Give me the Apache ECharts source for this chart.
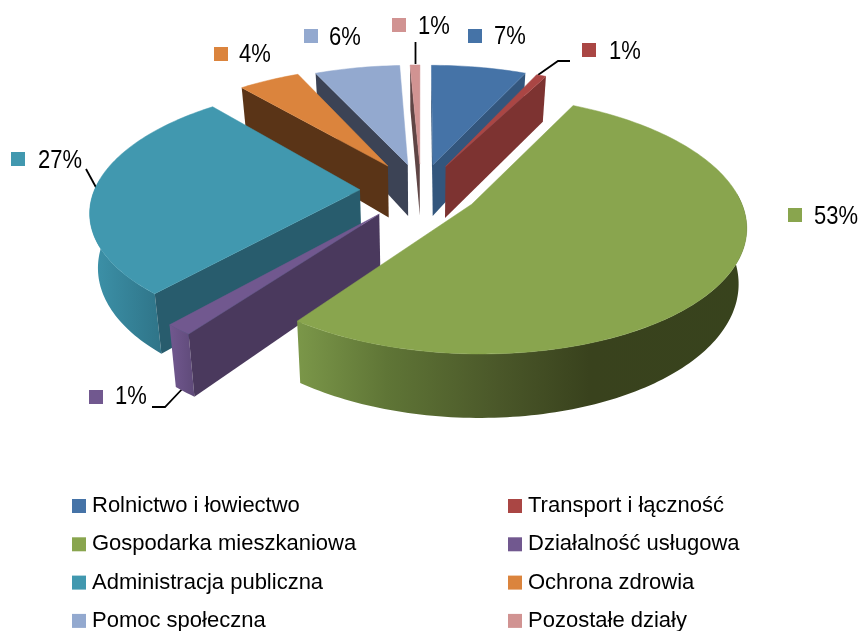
<!DOCTYPE html>
<html>
<head>
<meta charset="utf-8">
<style>html,body{margin:0;padding:0;background:#fff}#main{width:858px;height:631px}</style>
<script src="https://cdn.jsdelivr.net/npm/echarts@6/dist/echarts.min.js"></script>
</head>
<body>
<div id="main"></div>
<script>
// values, in %
const categories = ['Rolnictwo i łowiectwo', 'Transport i łączność', 'Gospodarka mieszkaniowa', 'Działalność usługowa',
  'Administracja publiczna', 'Ochrona zdrowia', 'Pomoc społeczna', 'Pozostałe działy'];
const values = [6.8, 0.7, 52.5, 1.4, 27.4, 4.4, 6.1, 0.7];

const topColors = ['#4573A7', '#AA4644', '#89A54E', '#71588F', '#4198AF', '#DB843D', '#93A9CF', '#D19392'];
const wallColors = ['#33567D', '#7D3331', '#38431D', '#4A395D', '#285C6D', '#5A3417', '#3C4355', '#5F4545'];
const rimStops = [
  ['#4573A7', '#33567D'], ['#AA4644', '#7D3331'],
  ['#7B9749', '#5F7536', '#4A5729', '#39421D', '#38431D'],
  ['#71588F', '#5F4A79'], ['#3D93AA', '#2F7488'], ['#DB843D', '#5A3417'], ['#93A9CF', '#3C4355'], ['#D19392', '#5F4545']
];
// far slices first, so the nearer ones cover them
const drawOrder = [7, 0, 6, 1, 5, 4, 3, 2];
// how far each slice is pulled out of the pie
const explodeBy = [0.22, 0.22, 0.22, 0.245, 0.23, 0.24, 0.22, 0.22];

// perspective of the pie plane
const cx = 421, cy = 190, radiusX = 265.5, radiusY = 121.8, persp = 0.154;
const depth = 53, shrink = 0.025;
const textFont = '22px "Liberation Sans"';

// [marker x, marker y, text x, text y]
const labelPos = [[468, 29, 494, 37], [582, 43, 609, 52], [788, 208, 814, 217], [89, 390, 115, 397],
  [11, 152, 38, 161], [214, 47, 239, 55], [304, 29, 329, 38], [392, 18, 418, 27]];
const leaders = {
  1: [[538, 75], [558, 61], [570, 61]],
  3: [[152, 407], [165, 407], [185, 386]],
  4: [[86, 169], [98, 191]],
  7: [[415.5, 42], [415.5, 64]]
};

const total = values.reduce((a, b) => a + b, 0);
const slices = [];
let cum = 0;
values.forEach(v => {
  const start = cum / total * 2 * Math.PI;
  cum += v;
  slices.push({ start, end: cum / total * 2 * Math.PI });
});

function proj(x, y, z) {
  const s = 1 / (1 + persp * y);
  return [cx + radiusX * x * s * (1 - shrink * z), cy - radiusY * y * s + depth * z * s];
}

function renderSlice(idx) {
  const { start, end } = slices[idx];
  const mid = (start + end) / 2;
  const ox = explodeBy[idx] * Math.sin(mid), oy = explodeBy[idx] * Math.cos(mid);
  const rim = (a, z) => proj(ox + Math.sin(a), oy + Math.cos(a), z);
  const apex = z => proj(ox, oy, z);
  const steps = Math.max(2, Math.ceil((end - start) / 0.02));
  const topPts = [apex(0)];
  for (let i = 0; i <= steps; i++) topPts.push(rim(start + (end - start) * i / steps, 0));

  const children = [];
  // outer wall, only the part turned to the viewer
  const a0 = Math.max(start, 85 * Math.PI / 180), a1 = Math.min(end, 275 * Math.PI / 180);
  if (a1 > a0) {
    const up = [], down = [];
    const n = Math.max(2, Math.ceil((a1 - a0) / 0.02));
    for (let i = 0; i <= n; i++) {
      const a = a0 + (a1 - a0) * i / n;
      up.push(rim(a, 0));
      down.unshift(rim(a, 1));
    }
    const stops = rimStops[idx];
    const colorStops = stops.length === 5
      ? [0, 0.2, 0.45, 0.65, 1].map((o, i) => ({ offset: o, color: stops[i] }))
      : stops.map((c, i) => ({ offset: i / (stops.length - 1), color: c }));
    children.push({
      type: 'polygon',
      shape: { points: up.concat(down) },
      style: { fill: { type: 'linear', x: 0, y: 0, x2: 1, y2: 0, colorStops: colorStops } }
    });
  }
  // cut faces
  const face = a => ({
    type: 'polygon',
    shape: { points: [apex(0), rim(a, 0), rim(a, 1), apex(1)] },
    style: { fill: wallColors[idx] }
  });
  if (rim(start, 0)[0] < apex(0)[0]) children.push(face(start));
  if (rim(end, 0)[0] > apex(0)[0]) children.push(face(end));
  children.push({
    type: 'polygon',
    shape: { points: topPts },
    style: { fill: topColors[idx], stroke: topColors[idx], lineWidth: 0.5 }
  });
  return { type: 'group', children: children };
}

const graphics = [];
values.forEach((v, i) => {
  const p = labelPos[i];
  graphics.push({ type: 'rect', shape: { x: p[0], y: p[1], width: 14, height: 14 }, style: { fill: topColors[i] } });
  graphics.push({
    type: 'text', x: p[2], y: p[3], scaleY: 1.2,
    style: { text: Math.round(v) + '%', fill: '#000', font: textFont, textVerticalAlign: 'middle' }
  });
  if (leaders[i]) {
    graphics.push({ type: 'polyline', shape: { points: leaders[i] }, style: { stroke: '#000', lineWidth: 1.8, fill: null } });
  }
});

const legendBase = {
  orient: 'vertical', icon: 'rect', itemWidth: 14, itemHeight: 14, itemGap: 16.3, padding: 0, height: 200,
  selectedMode: false,
  textStyle: { fontFamily: 'Liberation Sans', fontSize: 22, color: '#000', padding: [0, 0, 0, 1] }
};

const chart = echarts.init(document.getElementById('main'), null, { renderer: 'canvas' });
chart.setOption({
  animation: false,
  legend: [
    Object.assign({}, legendBase, { left: 72, top: 495, data: categories.filter((c, i) => i % 2 === 0) }),
    Object.assign({}, legendBase, { left: 508, top: 495, data: categories.filter((c, i) => i % 2 === 1) })
  ],
  graphic: graphics,
  series: drawOrder.map(idx => ({
    type: 'custom',
    name: categories[idx],
    coordinateSystem: 'none',
    silent: true,
    itemStyle: { color: topColors[idx] },
    data: [values[idx]],
    renderItem: () => renderSlice(idx)
  }))
});
</script>
</body>
</html>
